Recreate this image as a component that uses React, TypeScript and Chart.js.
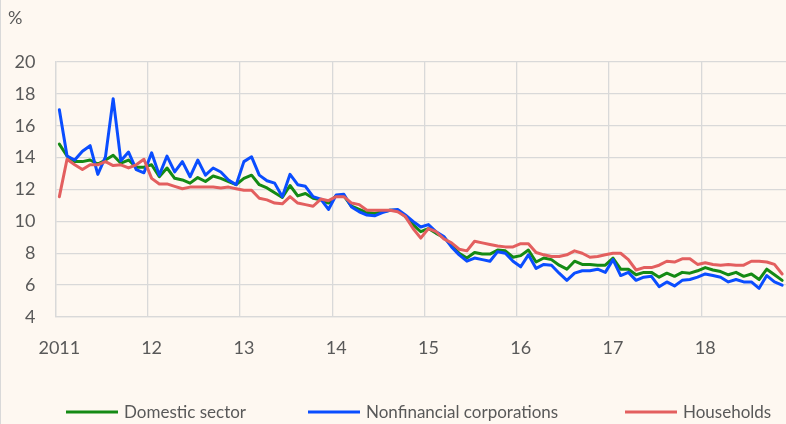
import React, { useEffect, useRef } from "react";
import { Chart, registerables } from "chart.js";

Chart.register(...registerables);

// ---- data (monthly, Jan 2011 onward) ----
const yearLabels = ["2011", "12", "13", "14", "15", "16", "17", "18"];
const seriesNames = ["Domestic sector", "Nonfinancial corporations", "Households"];
const seriesColors = ["#148A14", "#0A4DFF", "#E35F5F"];

const domestic = [
  14.85, 14.1, 13.75, 13.75, 13.85, 13.6, 13.85, 14.15, 13.65, 13.85, 13.4, 13.4,
  13.55, 12.8, 13.35, 12.7, 12.6, 12.4, 12.75, 12.5, 12.85, 12.7, 12.5, 12.3,
  12.7, 12.9, 12.3, 12.1, 11.8, 11.5, 12.25, 11.6, 11.75, 11.45, 11.35, 11.15,
  11.6, 11.6, 10.95, 10.75, 10.55, 10.5, 10.6, 10.7, 10.7, 10.3, 9.8, 9.35,
  9.55, 9.25, 9.0, 8.5, 8.0, 7.7, 8.05, 7.95, 7.95, 8.2, 8.15, 7.75,
  7.85, 8.2, 7.45, 7.7, 7.6, 7.25, 7.0, 7.5, 7.3, 7.3, 7.25, 7.25,
  7.7, 7.0, 7.0, 6.65, 6.8, 6.8, 6.5, 6.75, 6.55, 6.8, 6.75, 6.9,
  7.1, 6.95, 6.85, 6.65, 6.8, 6.55, 6.7, 6.35, 7.0, 6.65, 6.3,
];

const nonfinancial = [
  17.0, 14.1, 13.85, 14.4, 14.75, 12.95, 14.05, 17.7, 13.8, 14.35, 13.25, 13.05,
  14.3, 12.9, 14.1, 13.1, 13.75, 12.8, 13.85, 12.9, 13.35, 13.1, 12.6, 12.3,
  13.75, 14.05, 12.9, 12.55, 12.4, 11.55, 12.95, 12.3, 12.2, 11.55, 11.4, 10.75,
  11.65, 11.7, 10.9, 10.6, 10.4, 10.35, 10.55, 10.7, 10.75, 10.4, 10.0, 9.65,
  9.8, 9.35, 9.05, 8.4, 7.9, 7.5, 7.7, 7.6, 7.5, 8.1, 8.0, 7.5,
  7.15, 7.9, 7.05, 7.3, 7.25, 6.75, 6.3, 6.75, 6.9, 6.9, 7.0, 6.8,
  7.6, 6.6, 6.8, 6.3, 6.5, 6.55, 5.9, 6.2, 5.95, 6.3, 6.35, 6.5,
  6.7, 6.6, 6.5, 6.2, 6.35, 6.2, 6.2, 5.8, 6.6, 6.2, 6.0,
];

const households = [
  11.55, 13.9, 13.55, 13.25, 13.55, 13.55, 13.75, 13.5, 13.55, 13.35, 13.55, 13.9,
  12.7, 12.35, 12.35, 12.2, 12.05, 12.15, 12.15, 12.15, 12.15, 12.1, 12.15, 12.05,
  11.95, 11.95, 11.45, 11.35, 11.15, 11.1, 11.55, 11.15, 11.05, 10.95, 11.4, 11.3,
  11.55, 11.55, 11.15, 11.05, 10.7, 10.7, 10.7, 10.7, 10.6, 10.3, 9.55, 8.95,
  9.55, 9.35, 8.9, 8.65, 8.25, 8.15, 8.75, 8.65, 8.55, 8.45, 8.4, 8.4,
  8.6, 8.6, 8.05, 7.9, 7.8, 7.8, 7.9, 8.15, 8.0, 7.75, 7.8, 7.9,
  8.0, 8.0, 7.6, 6.95, 7.1, 7.1, 7.25, 7.5, 7.45, 7.65, 7.65, 7.3,
  7.4, 7.3, 7.25, 7.3, 7.25, 7.25, 7.5, 7.5, 7.45, 7.3, 6.7,
];

const monthLabels: string[] = [];
yearLabels.forEach((y) => {
  for (let m = 1; m <= 12; m++) monthLabels.push(`${y}-${m}`);
});
const categories = monthLabels.slice(0, domestic.length);

const BG = "#FEF8F1";
const GRID = "#D9D9D9";
const TEXT = "#595959";
const FONT = "Lato, 'Open Sans', sans-serif";

const decorPlugin = {
  id: "decor",
  beforeDraw(chart: any) {
    const ctx = chart.ctx;
    ctx.save();
    ctx.fillStyle = BG;
    ctx.fillRect(0, 0, chart.width, chart.height);
    ctx.strokeStyle = GRID;
    ctx.lineWidth = 1;
    ctx.beginPath();
    ctx.moveTo(0.5, 0);
    ctx.lineTo(0.5, chart.height);
    ctx.stroke();
    ctx.restore();
  },
  afterDraw(chart: any) {
    const ctx = chart.ctx;
    ctx.save();
    // unit label
    ctx.fillStyle = TEXT;
    ctx.font = `18px ${FONT}`;
    ctx.textBaseline = "middle";
    ctx.textAlign = "left";
    ctx.fillText("%", 8, 18);
    // legend
    const starts = [66, 308, 625];
    const y = 412;
    chart.data.datasets.forEach((ds: any, i: number) => {
      const x0 = starts[i];
      ctx.strokeStyle = ds.borderColor;
      ctx.lineWidth = 3;
      ctx.lineCap = "butt";
      ctx.beginPath();
      ctx.moveTo(x0, y);
      ctx.lineTo(x0 + 52, y);
      ctx.stroke();
      ctx.fillStyle = TEXT;
      ctx.font = `17px ${FONT}`;
      ctx.textBaseline = "middle";
      ctx.fillText(ds.label, x0 + 58, y + 1);
    });
    ctx.restore();
  },
};

export default function App() {
  const ref = useRef<HTMLCanvasElement | null>(null);

  useEffect(() => {
    if (!ref.current) return;
    const series = [domestic, nonfinancial, households];
    const chart = new Chart(ref.current, {
      type: "line",
      data: {
        labels: categories,
        datasets: series.map((d, i) => ({
          label: seriesNames[i],
          data: d,
          borderColor: seriesColors[i],
          backgroundColor: seriesColors[i],
          borderWidth: 3,
          pointRadius: 0,
          tension: 0,
          borderJoinStyle: "round" as const,
          borderCapStyle: "round" as const,
          order: 3 - i,
        })),
      },
      options: {
        responsive: false,
        devicePixelRatio: 1,
        animation: false,
        layout: { padding: { left: 0, right: 0, top: 62, bottom: 0 } },
        plugins: {
          legend: { display: false },
          tooltip: { enabled: false },
        },
        scales: {
          x: {
            type: "category",
            offset: true,
            grid: {
              offset: true,
              drawTicks: false,
              lineWidth: 1.3,
              color: (c: any) =>
                typeof c.index === "number" && c.index % 12 === 0 ? GRID : "rgba(0,0,0,0)",
            },
            border: { display: true, color: GRID, width: 1.3 },
            ticks: {
              autoSkip: false,
              maxRotation: 0,
              minRotation: 0,
              padding: 20,
              color: TEXT,
              font: { family: FONT, size: 18 },
              callback: (_v: any, idx: number) =>
                idx % 12 === 0 ? yearLabels[idx / 12] : "",
            },
            afterFit: (s: any) => {
              s.height = 107;
              s.paddingLeft = 0;
              s.paddingRight = 0;
            },
          },
          y: {
            min: 4,
            max: 20,
            grid: { drawTicks: false, color: GRID, lineWidth: 1.3 },
            border: { display: true, color: GRID, width: 1.3 },
            ticks: {
              stepSize: 2,
              padding: 20,
              color: TEXT,
              font: { family: FONT, size: 18 },
            },
            afterFit: (s: any) => {
              s.width = 55.5;
              s.paddingTop = 0;
              s.paddingBottom = 0;
            },
          },
        },
      },
      plugins: [decorPlugin],
    });
    return () => chart.destroy();
  }, []);

  return (
    <div style={{ position: "absolute", left: 0, top: 0, width: 786, height: 424, background: BG }}>
      <canvas ref={ref} width={786} height={424} style={{ display: "block" }} />
    </div>
  );
}
